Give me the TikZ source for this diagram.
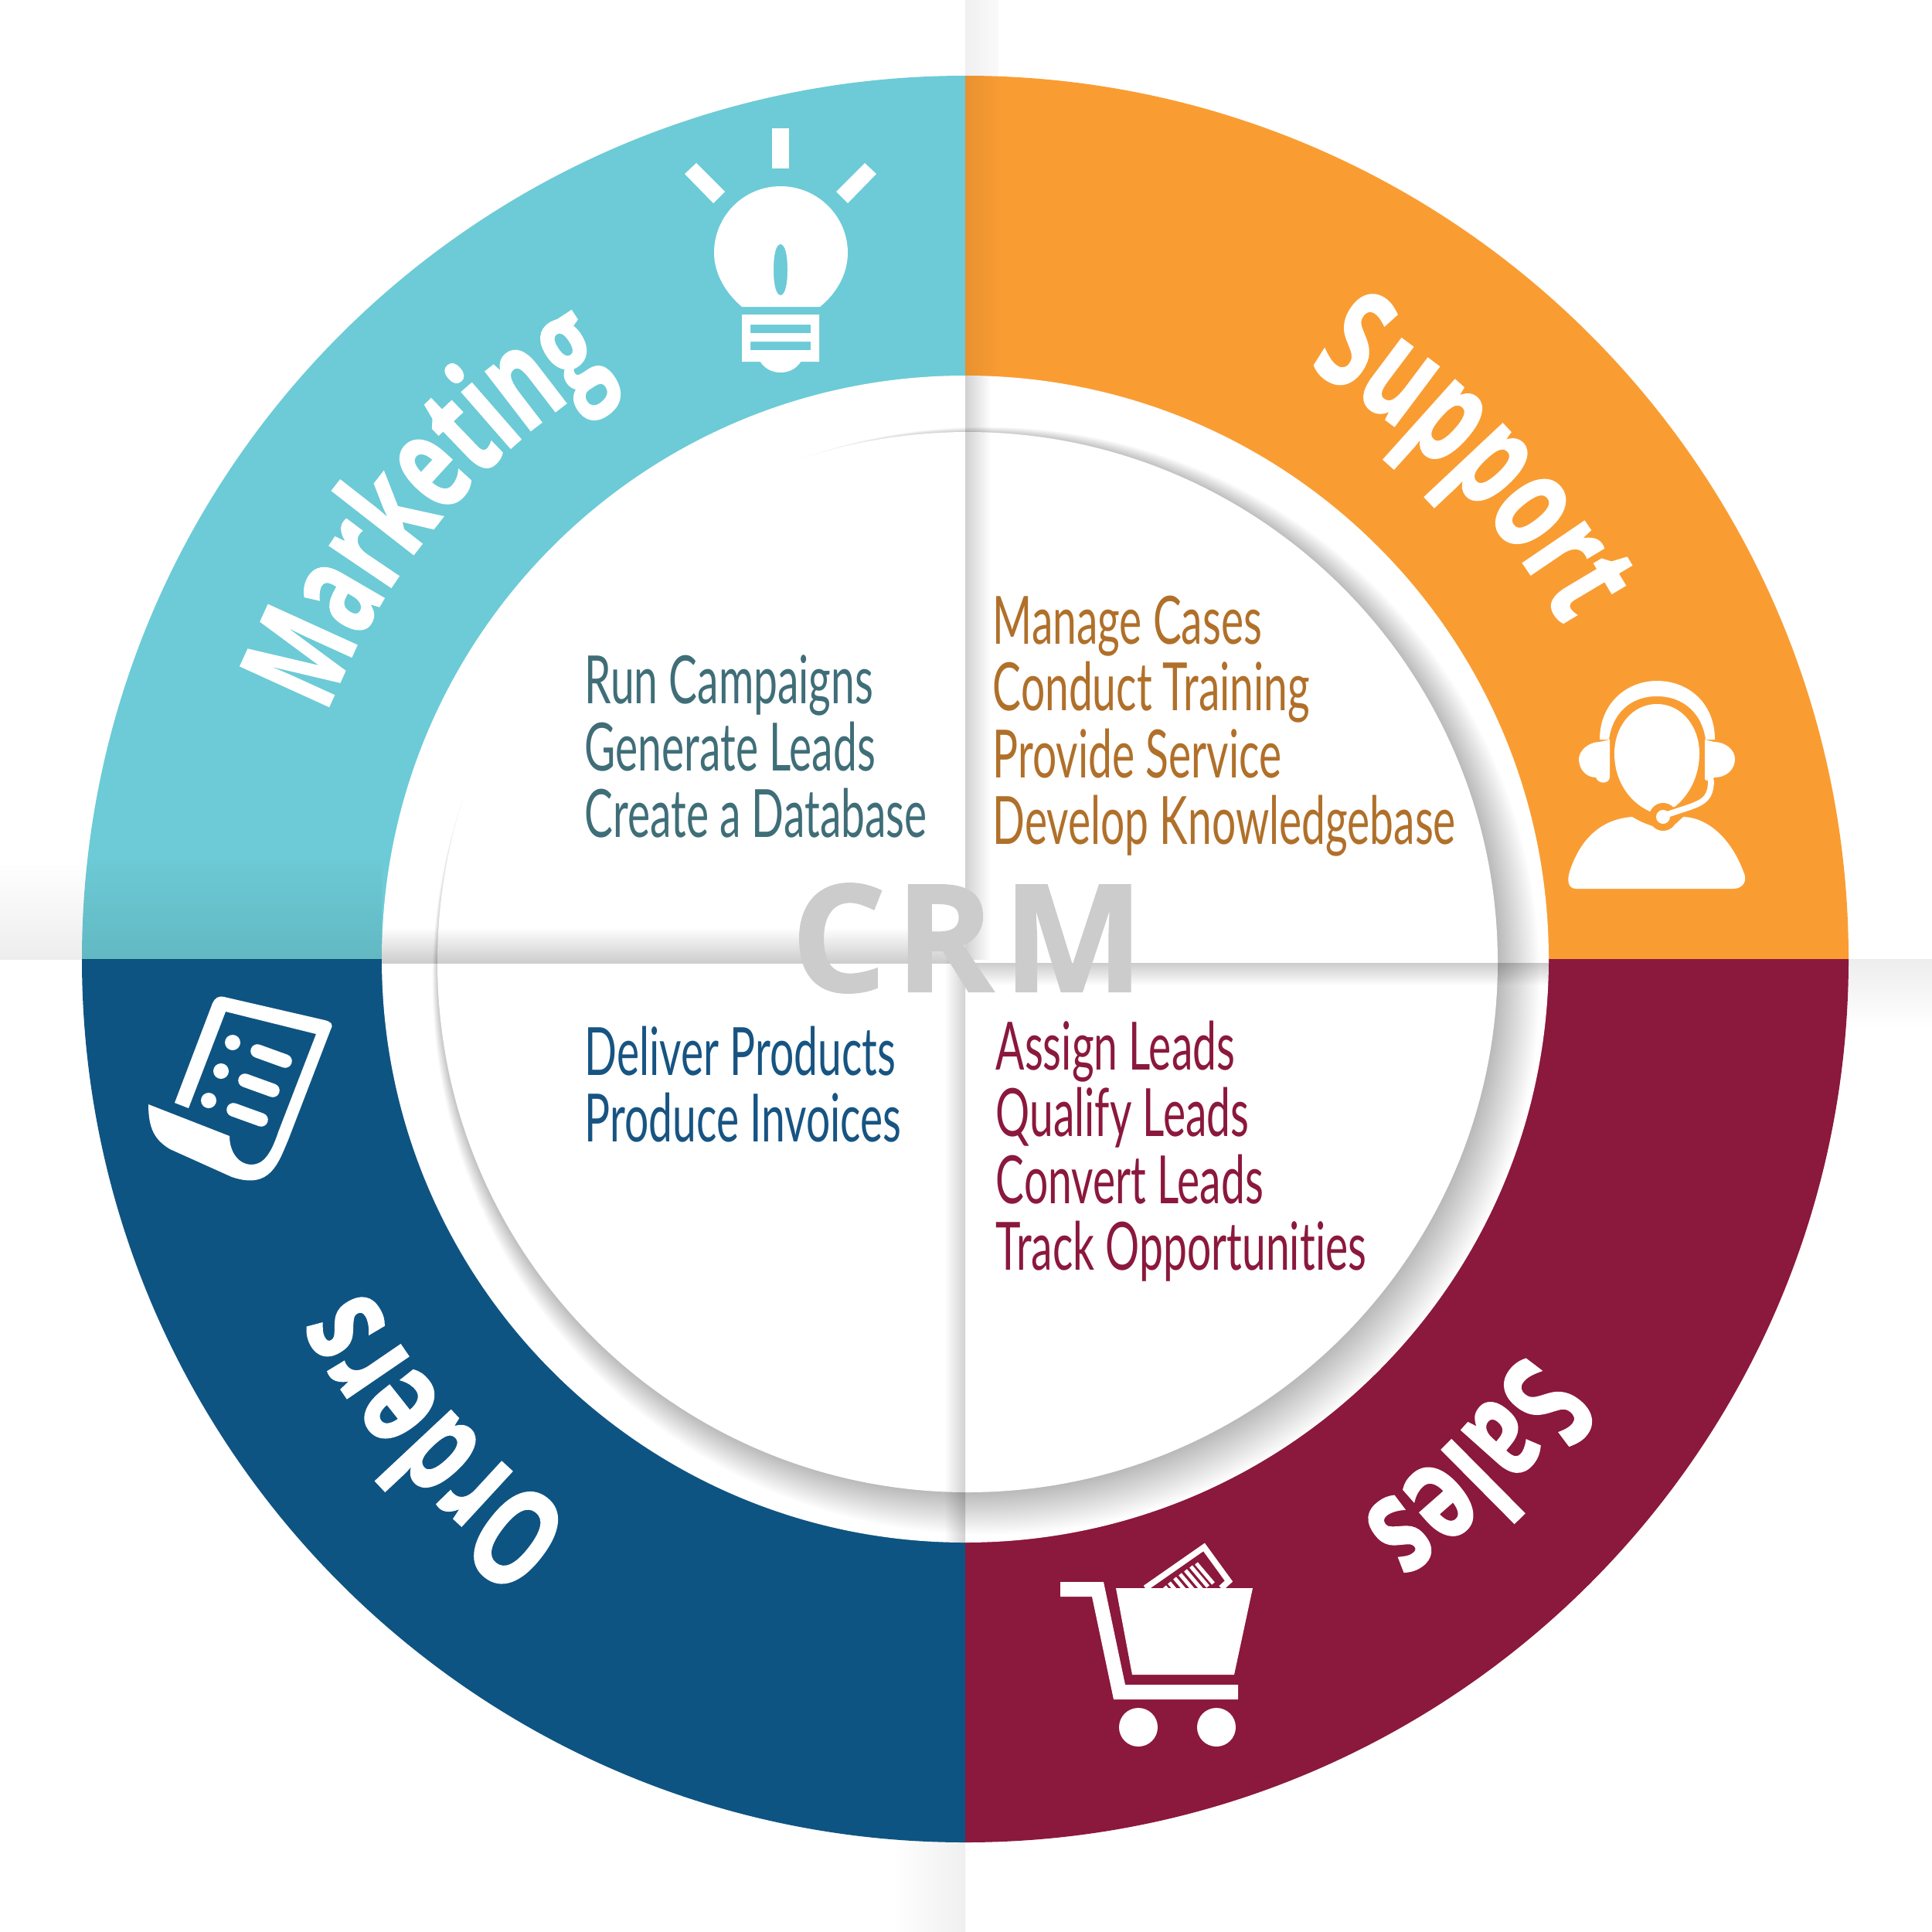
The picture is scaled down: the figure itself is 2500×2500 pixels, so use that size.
\documentclass[tikz,border=0pt]{standalone}
\usepackage{fontspec}
\usetikzlibrary{decorations.text,shadings}
\newfontfamily\thinf[FakeStretch=0.64,Ligatures=NoCommon]{Lato}
\newfontfamily\boldf[FakeStretch=0.68,FakeBold=1.2]{Open Sans Bold}
\newfontfamily\boldm[FakeStretch=0.645,FakeBold=1.2]{Open Sans Bold}
\newfontfamily\crmf[LetterSpace=6,FakeBold=1]{Open Sans Bold}
\definecolor{cmark}{HTML}{6CCBD6}
\definecolor{csupp}{HTML}{F99D33}
\definecolor{csale}{HTML}{8B183D}
\definecolor{cord}{HTML}{0E5482}
\definecolor{tmark}{HTML}{3F6E78}
\definecolor{tsupp}{HTML}{B0702A}
\definecolor{tsale}{HTML}{8B183D}
\definecolor{tord}{HTML}{175482}
\tikzset{
 listtext/.style={font=\thinf\fontsize{24.5}{24.6}\selectfont,anchor=north west,align=left,inner sep=0pt},
 ringlabel/.style={postaction={decorate},decoration={text along path,text align=center,
    text={|\boldf\fontsize{50}{55}\selectfont\color{white}|#1}}},
 ringlabelm/.style={postaction={decorate},decoration={text along path,text align=center,
    text={|\boldm\fontsize{50}{55}\selectfont\color{white}|#1}}},
 icon/.style={fill=white,draw=none},
 foldmul/.style={blend mode=multiply},
}
\begin{document}
\begin{tikzpicture}[x=0.01cm,y=-0.01cm]
\useasboundingbox (0,0) rectangle (2500,2500);
\fill[white] (0,0) rectangle (2500,2500);
% paper folds outside the ring
\shade[left color=black!6,right color=black!2] (1249,0) rectangle (1292,110);
\shade[top color=white,bottom color=black!7] (0,1115) rectangle (120,1241);
\shade[top color=black!7,bottom color=white] (2380,1241) rectangle (2500,1330);
\shade[left color=white,right color=black!6] (1155,2380) rectangle (1249,2500);
% quadrants
\coordinate (c) at (1249,1241);
\fill[cmark] (c) -- (106,1241) arc[start angle=180,end angle=270,radius=1143] -- cycle;
\fill[csupp] (c) -- (1249,98) arc[start angle=270,end angle=360,radius=1143] -- cycle;
\fill[csale] (c) -- (2392,1241) arc[start angle=0,end angle=90,radius=1143] -- cycle;
\fill[cord] (c) -- (1249,2384) arc[start angle=90,end angle=180,radius=1143] -- cycle;
\begin{scope}
 \clip (c) circle[radius=1143];
 \shade[foldmul,top color=white,bottom color=black!9] (100,1110) rectangle (494,1241);
 \shade[foldmul,left color=black!7,right color=white] (1249,90) rectangle (1295,486);
\end{scope}
% white disc with crescent shadow
\fill[white] (c) circle[radius=755];
\begin{scope}
 \clip (c) circle[radius=755];
 \foreach \i in {0,...,24}
  \fill[black,opacity=.0125] ({1252+1.0*(24-\i)},{1245+1.0*(24-\i)}) circle[radius={683+1.4*(24-\i)}];
\end{scope}
\fill[white] (1252,1245) circle[radius=686];
% folds
\begin{scope}
 \clip (c) circle[radius=755];
 \shade[foldmul,top color=white,bottom color=black!20] (494,1200) rectangle (1249,1246);
 \shade[foldmul,top color=black!20,bottom color=white] (1249,1246) rectangle (2004,1275);
 \shade[foldmul,left color=black!18,right color=white] (1249,486) rectangle (1282,1241);
 \shade[foldmul,left color=white,right color=black!18] (1222,1241) rectangle (1249,1996);
\end{scope}
% CRM
\node[font=\crmf\fontsize{55}{60}\selectfont,text=black!20,inner sep=0pt] (crm) at (1252,1214) {CRM};
% lists
\node[listtext,text=tmark] (mk) at (756,847) {Run Campaigns\\Generate Leads\\Create a Database};
\node[listtext,text=tsupp] (su) at (1284,770) {Manage Cases\\Conduct Training\\Provide Service\\Develop Knowledgebase};
\node[listtext,text=tord] (or) at (756,1327) {Deliver Products\\Produce Invoices};
\node[listtext,text=tsale] (sa) at (1288,1320) {Assign Leads\\Qualify Leads\\Convert Leads\\Track Opportunities};
% ring labels
\path[ringlabelm=Marketing] (c) ++(-162:885) arc[start angle=-162,end angle=-118,radius=885];
\path[ringlabel=Support] (c) ++(-65:885) arc[start angle=-65,end angle=-24,radius=885];
\path[ringlabel=Sales] (c) ++(30:885) arc[start angle=30,end angle=60,radius=885];
\path[ringlabel=Orders] (c) ++(118:885) arc[start angle=118,end angle=158,radius=885];
% bulb
\begin{scope}[shift={(850,140)}]
 \fill[icon] (149,26) rectangle (171,78);
 \fill[icon] (36,85) -- (51,71) -- (88,108) -- (73,123) -- cycle;
 \fill[icon] (284,85) -- (269,71) -- (232,108) -- (247,123) -- cycle;
 \fill[icon,even odd rule] (110,257) .. controls (90,240) and (74,215) .. (74,187) .. controls (74,140) and (112,101) .. (160,101) .. controls (208,101) and (247,140) .. (247,187) .. controls (247,215) and (232,240) .. (211,257) -- cycle
   (160,176) .. controls (154,176) and (151,190) .. (151,209) .. controls (151,228) and (154,242) .. (160,242) .. controls (166,242) and (169,228) .. (169,209) .. controls (169,190) and (166,176) .. (160,176) -- cycle;
 \fill[icon,even odd rule] (110,267) rectangle (210,328) (121,280) rectangle (199,291) (121,302) rectangle (199,313);
 \fill[icon] (133,327) .. controls (140,338) and (150,342) .. (160,342) .. controls (170,342) and (180,338) .. (187,327) -- cycle;
\end{scope}
% agent
\begin{scope}[shift={(2000,860)}]
 \fill[icon] (144,51) .. controls (176,51) and (199,80) .. (199,115) .. controls (199,145) and (185,170) .. (167,184) -- (135,190) .. controls (108,178) and (89,150) .. (89,115) .. controls (89,80) and (112,51) .. (144,51) -- cycle;
 \fill[icon] (70,97) .. controls (70,50) and (105,21) .. (144,21) .. controls (185,21) and (219,50) .. (219,97) -- (207,97) .. controls (203,65) and (180,41) .. (144,41) .. controls (108,41) and (86,65) .. (82,97) -- cycle;
 \fill[icon] (83,97) -- (83,145) .. controls (83,155) and (68,155) .. (65,146) .. controls (52,146) and (43,135) .. (43,122) .. controls (43,112) and (55,100) .. (70,100) -- cycle;
 \fill[icon] (206,97) -- (206,148) .. controls (208,153) and (215,153) .. (218,146) .. controls (235,146) and (245,135) .. (245,122) .. controls (245,110) and (232,100) .. (218,100) -- cycle;
 \fill[icon] (40,290) .. controls (28,290) and (28,278) .. (31,268) .. controls (45,225) and (72,200) .. (112,197) .. controls (125,205) and (135,208) .. (148,212) .. controls (160,215) and (170,205) .. (178,197) .. controls (210,198) and (240,225) .. (256,268) .. controls (262,280) and (255,290) .. (243,290) -- cycle;
 \fill[csupp] (152,197) circle[radius=18];
 \draw[csupp,line width=3.4pt] (214,150) .. controls (214,182) and (195,180) .. (155,196);
 \draw[white,line width=2.2pt,line cap=round] (214,150) .. controls (214,182) and (195,180) .. (152,196);
 \fill[icon] (152,197) circle[radius=9];
\end{scope}
% cart
\begin{scope}[shift={(1340,1980)}]
 \draw[white,line width=2.2pt] (142,75) -- (218,22) -- (250,66) -- (240,75);
 \foreach \px/\py in {208/43,201/47,194/52,187/57,180/62,173/68,167/73}
   \draw[white,line width=1.4pt] (\px,\py) -- ++(22,26);
 \fill[icon] (104,75) -- (281,75) -- (257,187) -- (125,187) -- cycle;
 \fill[icon] (32,67) -- (88,67) -- (116,200) -- (262,200) -- (262,219) -- (101,219) -- (73,86) -- (32,86) -- cycle;
 \fill[icon] (133,255) circle[radius=25];
 \fill[icon] (234,255) circle[radius=25];
\end{scope}
% invoice
\begin{scope}[shift={(170,1270)}]
 \fill[icon,even odd rule] (22,159) .. controls (22,190) and (30,205) .. (50,217) -- (130,253) .. controls (180,270) and (190,235) .. (203,205) -- (258,62) .. controls (262,55) and (258,52) .. (250,50) -- (120,20) .. controls (112,18) and (108,22) .. (105,28) -- (56,157) -- (74,164) -- (122,39) -- (239,68) -- (190,195) .. controls (180,225) and (170,237) .. (155,237) .. controls (140,237) and (127,222) .. (127,200) -- cycle;
 \fill[icon] (131,79) circle[radius=10];
 \fill[icon] (116,116) circle[radius=10];
 \fill[icon] (100,154) circle[radius=10];
 \draw[white,line width=5pt,line cap=round] (163,90) -- (199,103);
 \draw[white,line width=5pt,line cap=round] (147,128) -- (183,141);
 \draw[white,line width=5pt,line cap=round] (132,166) -- (168,179);
\end{scope}
\end{tikzpicture}
\end{document}
